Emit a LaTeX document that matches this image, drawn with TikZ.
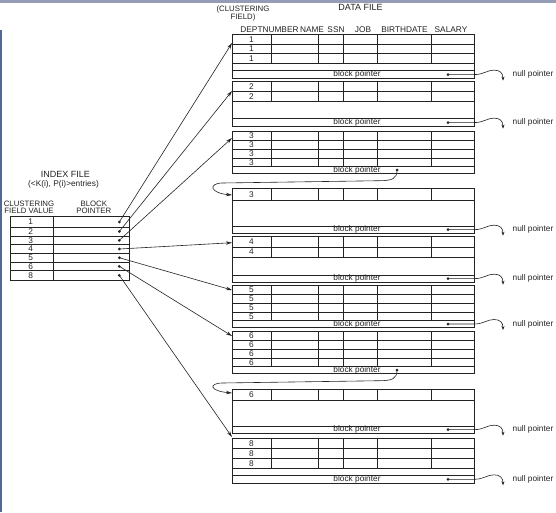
\documentclass[tikz,border=0pt]{standalone}
\usepackage{fontspec}
\setmainfont{Liberation Sans}
\usetikzlibrary{arrows.meta}
\definecolor{topband}{RGB}{150,156,182}
\definecolor{leftband}{RGB}{84,104,150}
\definecolor{ink}{RGB}{35,35,35}
\tikzset{
  tbl/.style={draw=ink,line width=0.6pt},
  txt/.style={inner sep=0pt,text=ink,font=\fontsize{8.3}{9}\selectfont},
  ttl/.style={inner sep=0pt,text=ink,font=\fontsize{9}{10}\selectfont},
  two/.style={inner sep=0pt,text=ink,align=center,font=\fontsize{7.8}{7}\selectfont},
  ptr/.style={draw=ink,line width=0.6pt,-{Stealth[length=6pt,width=3.4pt]}},
  nptr/.style={draw=ink,line width=0.6pt,-{Stealth[length=4pt,width=3pt]}},
  dotm/.style={fill=ink}
}
% #1 name, #2 top, #3 nrows, #4 row height, #5 bp top, #6 bottom, #7 digit, #8 dot x
\newcommand\dblk[8]{%
  \pgfmathsetmacro\datab{#2+#3*#4}%
  \pgfmathsetmacro\yc{(#5+#6)/2}%
  \draw[tbl] (232,#2) rectangle (474,#6);
  \draw[tbl] (232,#5) -- (474,#5);
  \foreach \i in {1,...,#3}{%
    \draw[tbl] (232,{#2+\i*#4}) -- (474,{#2+\i*#4});
    \node[txt] (#1-r\i) at (251.5,{#2+(\i-0.5)*#4}) {#7};
  }
  \foreach \cx in {271,318,343,377,431}{\draw[tbl] (\cx,#2) -- (\cx,\datab);}
  \node[txt] (#1-bptxt) at (357,\yc) {block pointer};
  \coordinate (#1-bp) at (#8,\yc);
  \fill[dotm] (#1-bp) circle (1.5);
}
% #1 name, #2 y centre
\newcommand\nullp[2]{%
  \coordinate (#1-edge) at (474,#2);
  \coordinate (#1-tip) at (503,#2+6);
  \draw[nptr] (#1-bp) -- (#1-edge) .. controls (484,#2) and (487,#2-4.5) .. (494,#2-4.5) .. controls (500,#2-4.5) and (503,#2-1.5) .. (#1-tip);
  \node[txt,anchor=west] (#1-null) at (512.5,#2) {null pointer};
}
\begin{document}
\begin{tikzpicture}[x=1pt,y=-1pt]
\useasboundingbox (0,0) rectangle (556,512);
\fill[white] (0,0) rectangle (556,512);
\fill[topband] (0,0) rectangle (556,2.7);
\fill[leftband] (0,30) rectangle (2,512);

% titles
\node[ttl] (dfile) at (360.5,7) {DATA FILE};
\node[two] (cf) at (243,13.5) {(CLUSTERING\\FIELD)};
\node[txt] (h1) at (269.5,29.3) {DEPTNUMBER};
\node[txt] (h2) at (312,29.3) {NAME};
\node[txt] (h3) at (336,29.3) {SSN};
\node[txt] (h4) at (363,29.3) {JOB};
\node[txt] (h5) at (404.5,29.3) {BIRTHDATE};
\node[txt] (h6) at (451,29.3) {SALARY};

% data blocks
\dblk{b1}{34.5}{3}{9.6}{70.7}{78.5}{1}{448}
\dblk{b2}{81.7}{2}{10}{118.5}{126.7}{2}{448}
\dblk{b3}{131.7}{4}{8.75}{166.7}{173.3}{3}{397}
\dblk{b3b}{188.3}{1}{11.7}{226}{233.3}{3}{448}
\dblk{b4}{236.7}{2}{10.2}{275}{282.3}{4}{448}
\dblk{b5}{285.7}{4}{8.75}{320.7}{327.3}{5}{448}
\dblk{b6}{331.7}{4}{8.75}{366.7}{373.3}{6}{397}
\dblk{b6b}{389}{1}{11}{426}{433.3}{6}{448}
\dblk{b8}{438.3}{3}{10.1}{475.3}{483.3}{8}{448}

\nullp{b1}{74.6}
\nullp{b2}{122.6}
\nullp{b3b}{229.65}
\nullp{b4}{278.65}
\nullp{b5}{324}
\nullp{b6b}{429.65}
\nullp{b8}{479.3}

% chain pointers
\coordinate (b3b-in) at (232,195);
\coordinate (b6b-in) at (232,393);
\draw[ptr] (b3-bp) .. controls (397,179) and (392,180.5) .. (380,180.7) -- (222,183) .. controls (208,183.5) and (210,193) .. (b3b-in);
\draw[ptr] (b6-bp) .. controls (397,379) and (392,380.5) .. (380,380.7) -- (222,383) .. controls (208,383.5) and (210,391) .. (b6b-in);

% index file
\node[ttl] (ifile) at (65.5,174.8) {INDEX FILE};
\node[txt] (ient) at (63.5,184) {(<K(i), P(i)>entries)};
\node[two] (ic) at (29,207.6) {CLUSTERING\\FIELD VALUE};
\node[two] (ib) at (93.8,207.6) {BLOCK\\POINTER};
\draw[tbl] (10,216.7) rectangle (129.3,280);
\draw[tbl] (53.3,216.7) -- (53.3,280);
\foreach \yy in {227,236,244.7,253.3,262,270.7}{\draw[tbl] (10,\yy) -- (129.3,\yy);}
\foreach \v/\yy in {1/222,2/231.5,3/240.3,4/249,5/257.7,6/266.3,8/275.3}{%
  \node[txt] (k\v) at (30.7,\yy) {\v};
  \coordinate (p\v) at (119.3,\yy);
  \fill[dotm] (p\v) circle (1.5);
}

% index pointers
\coordinate (b1-in) at (232,43);
\coordinate (b2-in) at (232,91);
\coordinate (b3-in) at (232,138);
\coordinate (b4-in) at (232,242.7);
\coordinate (b5-in) at (232,290);
\coordinate (b6-in) at (232,336);
\coordinate (b8-in) at (232,437);
\draw[ptr] (p1) -- (b1-in);
\draw[ptr] (p2) -- (b2-in);
\draw[ptr] (p3) -- (b3-in);
\draw[ptr] (p4) -- (b4-in);
\draw[ptr] (p5) -- (b5-in);
\draw[ptr] (p6) -- (b6-in);
\draw[ptr] (p8) -- (b8-in);
\end{tikzpicture}
\end{document}
